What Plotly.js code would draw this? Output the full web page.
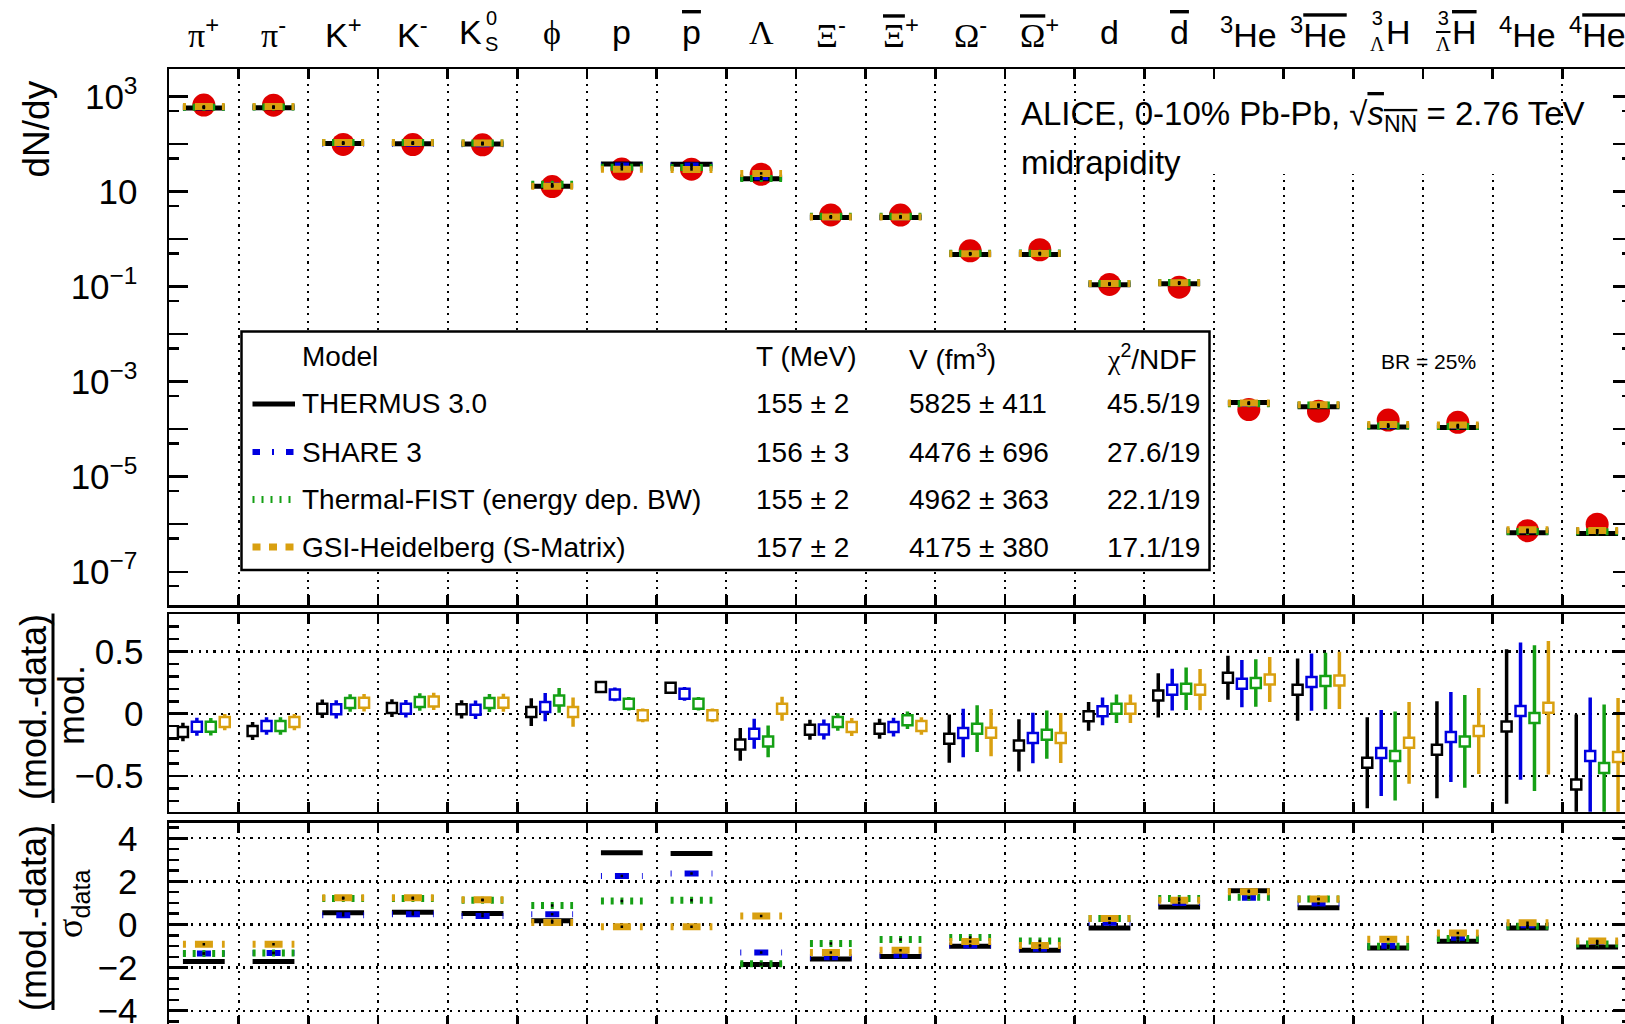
<!DOCTYPE html>
<html>
<head>
<meta charset="utf-8">
<script src="https://cdn.plot.ly/plotly-3.0.1.min.js"></script>
<style>
  html, body { margin: 0; padding: 0; overflow: hidden; background: #fff; }
  #chart { width: 1640px; height: 1040px; }
</style>
</head>
<body>
<div id="chart"></div>
<script>
// ---------------------------------------------------------------------------
// Hadron yields at midrapidity, 0-10% Pb-Pb at 2.76 TeV, and thermal-model fits
// ---------------------------------------------------------------------------
const categories = ['π+', 'π-', 'K+', 'K-', 'K0S', 'φ', 'p', 'pbar', 'Λ', 'Ξ-', 'Ξbar+',
  'Ω-', 'Ωbar+', 'd', 'dbar', '3He', '3Hebar', '3ΛH', '3ΛHbar', '4He', '4Hebar'];

// measured dN/dy
const dNdy = [665, 664, 99, 98, 97, 12.8, 30.0, 29.8, 23.3, 3.25, 3.22, 0.57, 0.60,
  0.112, 0.098, 2.6e-4, 2.4e-4, 1.56e-4, 1.40e-4, 7.3e-7, 1.0e-6];

// fit models
const modelNames = ['THERMUS 3.0', 'SHARE 3', 'Thermal-FIST (energy dep. BW)', 'GSI-Heidelberg (S-Matrix)'];
const modelT   = ['155 ± 2', '156 ± 3', '155 ± 2', '157 ± 2'];
const modelV   = ['5825 ± 411', '4476 ± 696', '4962 ± 363', '4175 ± 380'];
const modelChi = ['45.5/19', '27.6/19', '22.1/19', '17.1/19'];

// (mod.-data)/mod.
const relThermus = [-0.147, -0.139, 0.040, 0.045, 0.035, 0.013, 0.214, 0.209, -0.246, -0.128, -0.120,
  -0.200, -0.254, -0.021, 0.147, 0.289, 0.193, -0.393, -0.289, -0.102, -0.567];
const relShare = [-0.104, -0.099, 0.035, 0.040, 0.032, 0.053, 0.155, 0.160, -0.160, -0.126, -0.107,
  -0.155, -0.195, 0.019, 0.193, 0.241, 0.254, -0.316, -0.187, 0.021, -0.340];
const relFist = [-0.104, -0.099, 0.086, 0.094, 0.086, 0.107, 0.080, 0.080, -0.222, -0.067, -0.053,
  -0.120, -0.168, 0.040, 0.200, 0.246, 0.262, -0.340, -0.222, -0.035, -0.436];
const relGsi = [-0.067, -0.067, 0.088, 0.099, 0.088, 0.013, -0.013, -0.013, 0.040, -0.107, -0.099,
  -0.152, -0.195, 0.040, 0.193, 0.275, 0.267, -0.233, -0.139, 0.048, -0.348];

// uncertainties of (mod.-data)/mod.
const relErrThermus = [0.074, 0.072, 0.075, 0.072, 0.073, 0.112, 0.045, 0.045, 0.131, 0.080, 0.080,
  0.194, 0.210, 0.116, 0.178, 0.176, 0.250, 0.365, 0.390, 0.620, 0.560];
const relErrShare = [0.072, 0.070, 0.073, 0.070, 0.075, 0.113, 0.055, 0.055, 0.120, 0.080, 0.075,
  0.194, 0.203, 0.112, 0.167, 0.190, 0.230, 0.345, 0.361, 0.550, 0.470];
const relErrFist = [0.070, 0.070, 0.070, 0.070, 0.073, 0.100, 0.055, 0.055, 0.127, 0.070, 0.070,
  0.187, 0.194, 0.114, 0.170, 0.190, 0.227, 0.357, 0.372, 0.584, 0.510];
const relErrGsi = [0.065, 0.065, 0.070, 0.070, 0.073, 0.117, 0.055, 0.055, 0.096, 0.072, 0.070,
  0.190, 0.200, 0.114, 0.166, 0.180, 0.230, 0.328, 0.345, 0.535, 0.475];

// (mod.-data)/sigma_data
const sigThermus = [-1.72, -1.72, 0.54, 0.57, 0.51, 0.17, 3.33, 3.30, -1.86, -1.60, -1.49,
  -1.01, -1.19, -0.16, 0.81, 1.57, 0.78, -1.09, -0.78, -0.16, -1.04];
const sigShare = [-1.35, -1.32, 0.43, 0.48, 0.39, 0.47, 2.25, 2.37, -1.30, -1.52, -1.43,
  -0.98, -1.12, 0.08, 1.00, 1.24, 0.98, -0.99, -0.62, -0.03, -0.81];
const sigFist = [-1.35, -1.32, 1.21, 1.21, 1.13, 0.88, 1.09, 1.13, -1.82, -0.88, -0.70,
  -0.60, -0.76, 0.28, 1.21, 1.26, 1.18, -1.01, -0.65, -0.08, -0.91];
const sigGsi = [-0.92, -0.92, 1.24, 1.24, 1.15, 0.09, -0.11, -0.11, 0.40, -1.30, -1.19,
  -0.79, -0.98, 0.28, 1.13, 1.52, 1.18, -0.68, -0.39, 0.08, -0.76];

// species labels along the top
const g = s => `<span style="font-family:Liberation Serif">${s}</span>`;
const gb = s => `<span style="font-family:Liberation Serif;text-decoration:overline">${s}</span>`;
const ob = s => `<span style="text-decoration:overline">${s}</span>`;
const tickLabels = [
  g('π') + '<sup>+</sup>', g('π') + '<sup>-</sup>', 'K<sup>+</sup>', 'K<sup>-</sup>', 'K',
  g('ϕ'), 'p', ob('p'), g('Λ'), g('Ξ') + '<sup>-</sup>', gb('Ξ') + '<sup>+</sup>',
  g('Ω') + '<sup>-</sup>', gb('Ω') + '<sup>+</sup>', 'd', ob('d'),
  '<sup>3</sup>He', '<sup>3</sup>' + ob('He'), 'H', ob('H'), '<sup>4</sup>He', '<sup>4</sup>' + ob('He')
];
// stacked super/subscripts: [category index, text, side]
const stackedScripts = [
  [4, '0<br>S', 'right'],
  [17, '3<br>' + g('Λ'), 'left'],
  [18, '3<br>' + gb('Λ'), 'left']
];

// ---------------------------------------------------------------------------
// geometry
// ---------------------------------------------------------------------------
const W = 1640, H = 1040, L = 169, R = 8;
const PW = W - L - R;
const NB = categories.length;
const X = px => (px - L) / PW;
const Y = py => 1 - py / H;

const FONT = 'Liberation Sans, Arial, sans-serif';
const COLORS = ['#000000', '#0000e0', '#15a015', '#d9a010'];
const WIDTHS = [5, 6, 7, 7];
const DASHES = ['solid', '1px,13px,14px,13px,1px,60px', '3px,6.75px', '3px,9px,18px,9px,3px,60px'];
const LEG_DASH = ['solid', '7.5px,12px,2px,12px,7.5px,60px', '2px,7px', '8px,8.5px'];
const OFFSETS = [-0.3, -0.1, 0.1, 0.3];
const HALF = 0.3;

const rel = [relThermus, relShare, relFist, relGsi];
const relErr = [relErrThermus, relErrShare, relErrFist, relErrGsi];
const sig = [sigThermus, sigShare, sigFist, sigGsi];
// model yields follow from the deviation: (mod - data)/mod = r  ->  mod = data/(1 - r)
const modelYield = rel.map(r => dNdy.map((d, i) => d / (1 - r[i])));

const idx = categories.map((_, i) => i);

function segments(vals) {
  const xs = [], ys = [];
  vals.forEach((v, i) => { xs.push(i - HALF, i + HALF, null); ys.push(v, v, null); });
  return { xs, ys };
}

const traces = [];
// top: data
traces.push({
  x: idx, y: dNdy, xaxis: 'x', yaxis: 'y', type: 'scatter', mode: 'markers',
  marker: { symbol: 'circle', size: 23, color: '#e00000' }, showlegend: false, hoverinfo: 'skip'
});
function addModelSegments(values, xa, ya) {
  values.forEach((vals, m) => {
    const s = segments(vals);
    traces.push({
      x: s.xs, y: s.ys, xaxis: xa, yaxis: ya, type: 'scatter', mode: 'lines',
      line: { color: COLORS[m], width: WIDTHS[m], dash: DASHES[m] },
      connectgaps: false, showlegend: false, hoverinfo: 'skip'
    });
  });
  values.forEach(vals => {
    traces.push({
      x: idx, y: vals, xaxis: xa, yaxis: ya, type: 'scatter', mode: 'markers',
      marker: { symbol: 'square', size: 2.5, color: '#000' }, showlegend: false, hoverinfo: 'skip'
    });
  });
}
addModelSegments(modelYield, 'x', 'y');

// middle: relative deviation
rel.forEach((vals, m) => {
  traces.push({
    x: idx.map(i => i + OFFSETS[m]), y: vals, xaxis: 'x2', yaxis: 'y2', type: 'scatter', mode: 'markers',
    marker: { symbol: 'square', size: 10, color: '#fff', line: { color: COLORS[m], width: 2.5 } },
    error_y: { type: 'data', array: relErr[m], visible: true, color: COLORS[m], thickness: 3.5, width: 0 },
    showlegend: false, hoverinfo: 'skip'
  });
});

// bottom: deviation in units of the data uncertainty
addModelSegments(sig, 'x3', 'y3');

// ---------------------------------------------------------------------------
// axes
// ---------------------------------------------------------------------------
const boundaries = idx.slice(1).map(i => i - 0.5);
const GRID_DASH = '2.2px,5.2px';
const xBase = {
  range: [-0.5, NB - 0.5], tickmode: 'array', tickvals: boundaries, ticks: 'inside',
  ticklen: 10, tickwidth: 2.5, tickcolor: '#000', showticklabels: false,
  showline: true, linewidth: 2.5, linecolor: '#000', mirror: 'allticks',
  showgrid: true, gridcolor: '#000', gridwidth: 2.2, griddash: GRID_DASH, zeroline: false
};
const yBase = {
  ticks: 'inside', ticklen: 19, tickwidth: 2.5, tickcolor: '#000',
  showline: true, linewidth: 2.5, linecolor: '#000', mirror: 'allticks', zeroline: false,
  tickfont: { family: FONT, size: 35, color: '#000' }
};

const decades = [-7, -6, -5, -4, -3, -2, -1, 0, 1, 2, 3];
const decadeText = ['10<sup>−7</sup>', ' ', '10<sup>−5</sup>', ' ', '10<sup>−3</sup>', ' ', '10<sup>−1</sup>', ' ', '10', ' ', '10<sup>3</sup>'];
const minorFine = [];
for (let k = -8; k <= 8; k++) minorFine.push(Math.round(k * 10) / 100);

const layout = {
  width: W, height: H, margin: { l: L, r: R, t: 0, b: 0 },
  paper_bgcolor: '#fff', plot_bgcolor: '#fff', showlegend: false,
  font: { family: FONT, color: '#000' },
  xaxis: Object.assign({}, xBase, { domain: [0, 1], anchor: 'y' }),
  xaxis2: Object.assign({}, xBase, { domain: [0, 1], anchor: 'y2', matches: 'x' }),
  xaxis3: Object.assign({}, xBase, { domain: [0, 1], anchor: 'y3', matches: 'x' }),
  yaxis: Object.assign({}, yBase, {
    type: 'log', domain: [Y(605), Y(69)], range: [-7.70, 3.583], anchor: 'x',
    tickmode: 'array', tickvals: decades.map(k => Math.pow(10, k)), ticktext: decadeText,
    minor: { tickmode: 'array', tickvals: decades.concat([-8]).map(k => 5 * Math.pow(10, k)),
      ticks: 'inside', ticklen: 10, tickwidth: 2.5, tickcolor: '#000' },
    showgrid: false, ticklabelstandoff: 22
  }),
  yaxis2: Object.assign({}, yBase, {
    domain: [Y(811.7), Y(614)], range: [-0.786, 0.8], anchor: 'x2',
    tickmode: 'array', tickvals: [-0.5, 0, 0.5], ticktext: ['−0.5', '0', '0.5'],
    minor: { tickmode: 'array', tickvals: minorFine.filter(v => Math.abs(v * 2 - Math.round(v * 2)) > 1e-6),
      ticks: 'inside', ticklen: 10, tickwidth: 2.5, tickcolor: '#000' },
    showgrid: true, gridcolor: '#000', gridwidth: 2.2, griddash: GRID_DASH, ticklabelstandoff: 16
  }),
  yaxis3: Object.assign({}, yBase, {
    domain: [Y(1026), Y(822.7)], range: [-4.71, 4.724], anchor: 'x3',
    tickmode: 'array', tickvals: [-4, -2, 0, 2, 4], ticktext: ['−4', '−2', '0', '2', '4'],
    minor: { tickmode: 'linear', tick0: 0, dtick: 0.5,
      ticks: 'inside', ticklen: 10, tickwidth: 2.5, tickcolor: '#000' },
    showgrid: true, gridcolor: '#000', gridwidth: 2.2, griddash: GRID_DASH, ticklabelstandoff: 22
  }),
  shapes: [],
  annotations: []
};

// legend panel and the masked area behind the collision-system text
layout.shapes.push({
  type: 'rect', xref: 'paper', yref: 'paper', layer: 'above',
  x0: X(241.5), x1: X(1209.5), y0: Y(570), y1: Y(331.6),
  fillcolor: '#fff', line: { color: '#000', width: 2.5 }
});
layout.shapes.push({
  type: 'rect', xref: 'paper', yref: 'paper', layer: 'above',
  x0: X(1180), x1: X(1527), y0: Y(174), y1: Y(80),
  fillcolor: '#fff', line: { width: 0 }
});

// legend
const rowsY = [404, 452, 499.5, 547];
const ann = (text, x, y, size, opts) => Object.assign({
  text, x, y, xref: 'paper', yref: 'paper', showarrow: false,
  xanchor: 'left', yanchor: 'middle', font: { family: FONT, size, color: '#000' }
}, opts || {});

layout.annotations.push(ann('Model', X(300), Y(356.5), 28));
layout.annotations.push(ann('T (MeV)', X(754), Y(356.5), 28));
layout.annotations.push(ann('V (fm<sup>3</sup>)', X(906.5), Y(356.5), 28));
layout.annotations.push(ann(g('χ') + '<sup>2</sup>/NDF', X(1105), Y(356.5), 28));
modelNames.forEach((name, m) => {
  const y = Y(rowsY[m]);
  layout.shapes.push({
    type: 'line', xref: 'paper', yref: 'paper', x0: X(252.5), x1: X(295), y0: y, y1: y,
    line: { color: COLORS[m], width: WIDTHS[m], dash: LEG_DASH[m] }
  });
  layout.annotations.push(ann(name, X(300), y, 28));
  layout.annotations.push(ann(modelT[m], X(754), y, 28));
  layout.annotations.push(ann(modelV[m], X(906.5), y, 28));
  layout.annotations.push(ann(modelChi[m], X(1105), y, 28));
});

// header text
layout.annotations.push(ann('ALICE, 0-10% Pb-Pb, √<span style="text-decoration:overline"><i>s</i><sub>NN</sub></span> = 2.76 TeV',
  X(1019), Y(116), 33));
layout.annotations.push(ann('midrapidity', X(1019), Y(162.7), 33));
layout.annotations.push(ann('BR = 25%', X(1428), Y(361.7), 21, { xanchor: 'center' }));

// species labels
const baseShift = { 4: -12.5, 17: 10, 18: 7 };
tickLabels.forEach((t, i) => {
  layout.annotations.push({
    text: t, x: i, y: Y(32), xref: 'x', yref: 'paper', showarrow: false,
    xanchor: 'center', yanchor: 'middle', xshift: baseShift[i] || 0,
    font: { family: FONT, size: 34, color: '#000' }
  });
});
stackedScripts.forEach(([i, t, side]) => {
  layout.annotations.push({
    text: t, x: i, y: Y(30.5), xref: 'x', yref: 'paper', showarrow: false,
    xanchor: side === 'right' ? 'left' : 'right', yanchor: 'middle', align: 'center',
    xshift: side === 'right' ? 0 : (i === 17 ? -1.5 : -5),
    font: { family: FONT, size: 20, color: '#000' }
  });
});

// axis titles
layout.annotations.push(ann('dN/dy', X(36), Y(129.5), 37, { xanchor: 'center', textangle: -90 }));
layout.annotations.push(ann('(mod.-data)', X(33), Y(707), 36, { xanchor: 'center', textangle: -90 }));
layout.annotations.push(ann('mod.', X(71), Y(705), 36, { xanchor: 'center', textangle: -90 }));
layout.annotations.push(ann('(mod.-data)', X(33), Y(918), 36, { xanchor: 'center', textangle: -90 }));
layout.annotations.push(ann(g('σ') + '<sub>data</sub>', X(72), Y(904), 36, { xanchor: 'center', textangle: -90 }));
[[613.5, 803], [824, 1010]].forEach(([a, b]) => {
  layout.shapes.push({
    type: 'line', xref: 'paper', yref: 'paper', x0: X(53), x1: X(53), y0: Y(a), y1: Y(b),
    line: { color: '#000', width: 3 }
  });
});

Plotly.newPlot('chart', traces, layout, { displayModeBar: false, staticPlot: true });
</script>
</body>
</html>
